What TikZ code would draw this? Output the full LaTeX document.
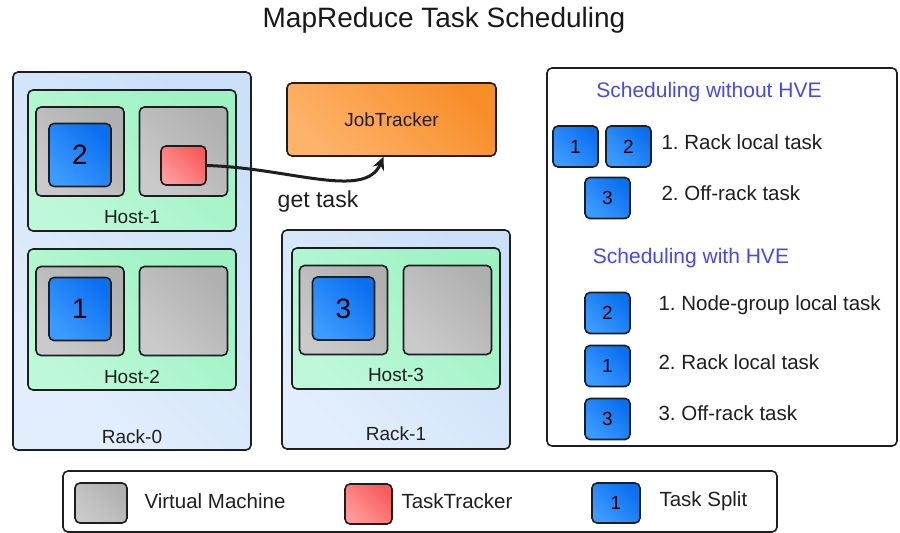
\documentclass[tikz,border=0pt]{standalone}
\usepackage{fontspec}
\setmainfont{Liberation Sans}
\usetikzlibrary{arrows.meta}
\frenchspacing
\definecolor{rackA}{HTML}{E2EEFC}
\definecolor{rackB}{HTML}{CBE0F8}
\definecolor{hostA}{HTML}{BDF8D8}
\definecolor{hostB}{HTML}{9DF2C4}
\definecolor{vmA}{HTML}{CACACA}
\definecolor{vmB}{HTML}{B0B0B0}
\definecolor{bluA}{HTML}{3D9BFF}
\definecolor{bluB}{HTML}{0A6FF0}
\definecolor{redA}{HTML}{FF9A9A}
\definecolor{redB}{HTML}{F85C5C}
\definecolor{orgA}{HTML}{FDB36A}
\definecolor{orgB}{HTML}{F88E2A}
\definecolor{hve}{HTML}{4646FF}
\definecolor{edge}{HTML}{1E1E1E}
\tikzset{
  box/.style={draw=edge, line width=1.6pt, rounded corners=5pt, inner sep=0pt, shading angle=135},
  rack/.style={box, left color=rackA, right color=rackB, shading angle=135},
  host/.style={box, left color=hostA, right color=hostB, shading angle=135},
  vm/.style={box, left color=vmA, right color=vmB, shading angle=135, minimum width=88pt, minimum height=89pt},
  split/.style={box, left color=bluA, right color=bluB, shading angle=135, minimum width=62pt, minimum height=63pt, font=\fontsize{28}{30}\selectfont},
  ssplit/.style={box, left color=bluA, right color=bluB, shading angle=135, minimum width=45pt, minimum height=41pt, font=\fontsize{19}{21}\selectfont},
  tt/.style={box, left color=redA, right color=redB, shading angle=135},
  lbl/.style={font=\fontsize{19}{21}\selectfont, text=black!88},
  txt/.style={font=\fontsize{20.5}{23}\selectfont, anchor=west, text=black!88},
  ltxt/.style={font=\fontsize{20.5}{23}\selectfont, anchor=west, text=black!88},
  hvetxt/.style={font=\fontsize{21}{23}\selectfont, text=hve},
}
\begin{document}
\begin{tikzpicture}[x=1pt,y=-1pt]
\useasboundingbox (0,0) rectangle (900,533);
\fill[white] (0,0) rectangle (900,533);
\node[font=\fontsize{28}{32}\selectfont, text=black!90] (title) at (444,20) {MapReduce Task Scheduling};

% Rack-0
\node[rack, minimum width=238pt, minimum height=378pt] (rack0) at (132,261) {};
\node[lbl] (rack0l) at (132,437) {Rack-0};
\node[host, minimum width=208pt, minimum height=141pt] (host1) at (132,160.5) {};
\node[lbl] (host1l) at (132,217) {Host-1};
\node[vm] (vm11) at (80,151.5) {};
\node[vm] (vm12) at (183.5,151.5) {};
\node[split] (s2) at (80,155) {2};
\node[tt, minimum width=45pt, minimum height=39pt] (tt) at (183.5,165.5) {};
\node[host, minimum width=208pt, minimum height=141pt] (host2) at (132,319.5) {};
\node[lbl] (host2l) at (132,377) {Host-2};
\node[vm] (vm21) at (80,311) {};
\node[vm] (vm22) at (183.5,311) {};
\node[split] (s1) at (80,309) {1};

% Rack-1
\node[rack, minimum width=228pt, minimum height=219pt] (rack1) at (396,339.5) {};
\node[lbl] (rack1l) at (396,434) {Rack-1};
\node[host, minimum width=208pt, minimum height=141pt] (host3) at (396,318.5) {};
\node[lbl] (host3l) at (396,375) {Host-3};
\node[vm] (vm31) at (343.5,310) {};
\node[vm] (vm32) at (447.5,310) {};
\node[split] (s3) at (343.5,308.5) {3};

% JobTracker
\node[box, left color=orgA, right color=orgB, shading angle=135, minimum width=209pt, minimum height=73pt, font=\fontsize{19}{21}\selectfont, text=black!88] (jt) at (391.5,119.5) {JobTracker};
\coordinate (jtin) at ([xshift=-8pt]jt.south);
\draw[edge, line width=3pt, -{Stealth[length=13pt,width=12pt]}] (tt.east) .. controls (290,168) and (365,200) .. (jtin);
\node[font=\fontsize{23}{25}\selectfont, text=black!88] (gettask) at (318,202) {get task};

% Right panel
\node[draw=edge, line width=1.6pt, rounded corners=5pt, fill=white, minimum width=350pt, minimum height=378pt] (panel) at (722,257) {};
\node[hvetxt] (h1) at (709,92) {Scheduling without HVE};
\node[ssplit] (a1) at (575.5,146.5) {1};
\node[ssplit] (a2) at (628.5,146.5) {2};
\node[txt] (a12t) at (658,142) {1. Rack local task};
\node[ssplit] (a3) at (607.5,198) {3};
\node[txt] (a3t) at (658,193) {2. Off-rack task};
\node[hvetxt] (h2) at (691,258) {Scheduling with HVE};
\node[ssplit] (b2) at (607.5,313) {2};
\node[txt] (b2t) at (655,305) {1. Node-group local task};
\node[ssplit] (b1) at (607.5,366) {1};
\node[txt] (b1t) at (655,362) {2. Rack local task};
\node[ssplit] (b3) at (607.5,419) {3};
\node[txt] (b3t) at (655,413) {3. Off-rack task};

% Legend
\node[draw=edge, line width=1.6pt, rounded corners=5pt, fill=white, minimum width=714pt, minimum height=61pt] (legend) at (420,501.5) {};
\node[box, left color=vmA, right color=vmB, shading angle=135, minimum width=52pt, minimum height=40pt] (lvm) at (101,503) {};
\node[ltxt] (lvmt) at (141,501) {Virtual Machine};
\node[tt, minimum width=47pt, minimum height=40pt] (ltt) at (368.5,504) {};
\node[ltxt] (lttt) at (398,501) {TaskTracker};
\node[ssplit, minimum width=48pt, minimum height=40pt] (lsp) at (616,503) {1};
\node[ltxt] (lspt) at (656,501) {Task Split};
\end{tikzpicture}
\end{document}
